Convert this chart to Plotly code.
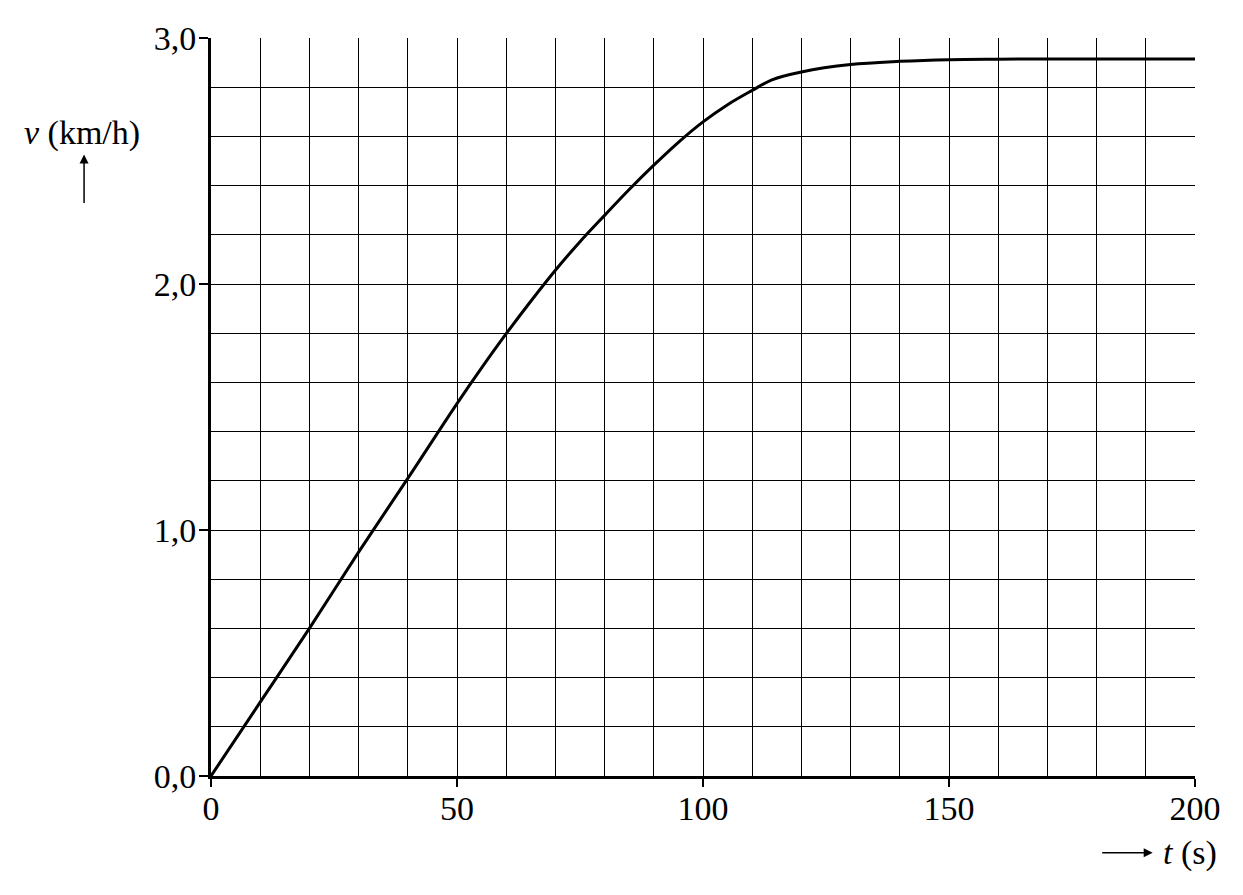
import plotly.graph_objects as go

# curve: time (s) and speed (km/h)
t = [0, 10, 20, 30, 40, 50, 55, 60, 65, 70, 75, 80, 85, 90, 95, 100, 105, 110,
     114, 120, 130, 140, 150, 160, 170, 180, 190, 200]
v = [0, 0.30, 0.60, 0.91, 1.21, 1.514, 1.659, 1.798, 1.930, 2.056, 2.172, 2.279,
     2.384, 2.483, 2.576, 2.659, 2.729, 2.787, 2.83, 2.862, 2.892, 2.905, 2.912,
     2.914, 2.915, 2.915, 2.915, 2.915]

x_ticks = [0, 50, 100, 150, 200]
y_ticks = [0, 1, 2, 3]

font = "Liberation Serif"
fsize = 34

fig = go.Figure()
fig.add_trace(go.Scatter(x=t, y=v, mode="lines",
                         line=dict(color="black", width=3, shape="spline", smoothing=1.0),
                         showlegend=False, hoverinfo="skip"))

fig.update_xaxes(range=[0, 200], tickvals=x_ticks, ticks="outside", ticklen=8,
                 tickwidth=2, tickcolor="black", showline=True, linewidth=3,
                 linecolor="black", showgrid=True, gridcolor="black", gridwidth=1,
                 minor=dict(dtick=10, showgrid=True, gridcolor="black", gridwidth=1),
                 zeroline=False, ticklabelstandoff=-8,
                 tickfont=dict(family=font, size=fsize, color="black"))
fig.update_yaxes(range=[0, 3], tickvals=y_ticks, tickformat=".1f", ticks="outside",
                 ticklen=9, tickwidth=2, tickcolor="black", showline=True, linewidth=3,
                 linecolor="black", showgrid=True, gridcolor="black", gridwidth=1,
                 minor=dict(dtick=0.2, showgrid=True, gridcolor="black", gridwidth=1),
                 zeroline=False, ticklabelstandoff=-4,
                 tickfont=dict(family=font, size=fsize, color="black"))

# axis labels with arrows
fig.add_annotation(x=-0.131, y=0.871, xref="paper", yref="paper", showarrow=False,
                   xanchor="center", yanchor="middle",
                   text="<i>v</i> (km/h)", font=dict(family=font, size=fsize, color="black"))
fig.add_annotation(x=-0.129, y=0.842, xref="paper", yref="paper", text="",
                   showarrow=True, ax=0, ay=50, arrowhead=2, arrowsize=1.2,
                   arrowwidth=1.5, arrowcolor="black")
fig.add_annotation(x=0.995, y=-0.104, xref="paper", yref="paper", showarrow=False,
                   xanchor="center", yanchor="middle",
                   text="<i>t</i> (s)", font=dict(family=font, size=fsize, color="black"))
fig.add_annotation(x=0.957, y=-0.104, xref="paper", yref="paper", text="",
                   showarrow=True, ax=-52, ay=0, arrowhead=2, arrowsize=1.2,
                   arrowwidth=1.5, arrowcolor="black")

# page body adds an 8px offset at left/top, so the figure is made that much smaller
fig.update_layout(width=1235, height=887, margin=dict(l=203, r=48, t=30, b=119),
                  plot_bgcolor="white", paper_bgcolor="white", separators=", ",
                  font=dict(family=font, color="black"))

fig.write_html("out.html")
